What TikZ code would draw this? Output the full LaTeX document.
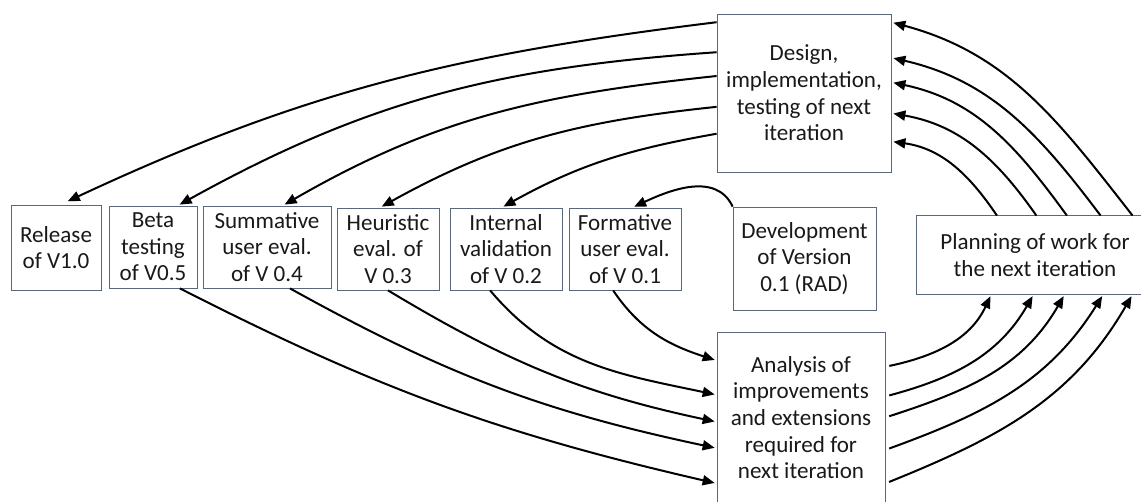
\documentclass[tikz,border=0pt]{standalone}
\usepackage{fontspec}
\setmainfont{Carlito}
\usetikzlibrary{arrows.meta}

\definecolor{boxline}{RGB}{90,104,124}
\tikzset{
  stage/.style={draw=boxline, line width=0.6pt, align=center, inner sep=0pt,
    text=black!90, font=\fontsize{17.3}{20}\selectfont},
  flow/.style={-{Triangle[length=9pt,width=7.5pt]}, line width=1.5pt, shorten >=1.5pt}
}

\begin{document}
\begin{tikzpicture}[x=0.75pt,y=0.75pt]
        \useasboundingbox (0,0) rectangle (1141,502);
        % the stages
        \node[stage, minimum width=67.5pt, minimum height=63.75pt] (release) at (56,254.5) {Release\\of V1.0};
        \node[stage, minimum width=66pt, minimum height=61.5pt] (beta) at (153,255) {Beta\\testing\\of V0.5};
        \node[stage, minimum width=96pt, minimum height=61.5pt] (summ) at (267,255) {Summative\\user eval.\\of V 0.4};
        \node[stage, minimum width=76.5pt, minimum height=61.5pt] (heur) at (388,253) {Heuristic\\eval. of\\V 0.3};
        \node[stage, minimum width=84pt, minimum height=61.5pt] (internal) at (506,253) {Internal\\validation\\of V 0.2};
        \node[stage, minimum width=84pt, minimum height=61.5pt] (formative) at (625,253) {Formative\\user eval.\\of V 0.1};
        \node[stage, minimum width=107.25pt, minimum height=77.25pt] (devel) at (804.5,243.5) {Development\\of Version\\0.1 (RAD)};
        \node[stage, draw=none, minimum width=177pt, minimum height=58.5pt] (planning) at (1035,247) {Planning of work for\\the next iteration};
        \node[stage, minimum width=130.5pt, minimum height=118.5pt] (design) at (804,409) {Design,\\implementation,\\testing of next\\iteration};
        \node[stage, minimum width=126pt, minimum height=128.25pt] (analysis) at (801,84.5) {Analysis of\\improvements\\and extensions\\required for\\next iteration};
        % planning box runs off the right edge
        \draw[boxline, line width=0.6pt] (planning.north east) -- (planning.north west) -- (planning.south west) -- (planning.south east);

        % design -> the evaluations
        \draw[flow, shorten >=6pt] (design.141) to[out=187,in=25] (release.84);
        \draw[flow] (design.155) to[out=184,in=29] (beta.59);
        \draw[flow] (design.169) to[out=186,in=30] (summ.69);
        \draw[flow] (design.189) to[out=186,in=29] (heur.101);
        \draw[flow] (design.205) to[out=190,in=29] (internal.96);

        % the evaluations -> analysis
        \draw[flow] (formative.254) to[out=-56,in=162] (analysis.146);
        \draw[flow] (internal.249) to[out=-50,in=168] (analysis.165);
        \draw[flow] (heur.south) to[out=-31,in=168] (analysis.183);
        \draw[flow] (summ.299) to[out=-29,in=168] (analysis.200);
        \draw[flow] (beta.303) to[out=-27,in=167] (analysis.218);

        % analysis -> planning
        \draw[flow, shorten <=3pt] (analysis.31) to[out=12,in=245] (planning.222);
        \draw[flow, shorten <=3pt] (analysis.14) to[out=15,in=240] (planning.268);
        \draw[flow, shorten <=3pt] (analysis.east) to[out=18,in=240] (planning.307);
        \draw[flow, shorten <=3pt] (analysis.-21) to[out=20,in=238] (planning.330);
        \draw[flow, shorten <=3pt] (analysis.-38) to[out=22,in=240] (planning.338);

        % planning -> design
        \draw[flow] (planning.134) to[out=124,in=-8] (design.-29);
        \draw[flow] (planning.88) to[out=125,in=-10] (design.-13);
        \draw[flow] (planning.51) to[out=126,in=-12] (design.7);
        \draw[flow] (planning.31) to[out=127,in=-13] (design.22);
        \draw[flow] (planning.22) to[out=128,in=-15] (design.39);

        % first version
        \draw[flow] (devel.north west) to[out=115,in=25] (formative.80);
\end{tikzpicture}
\end{document}
